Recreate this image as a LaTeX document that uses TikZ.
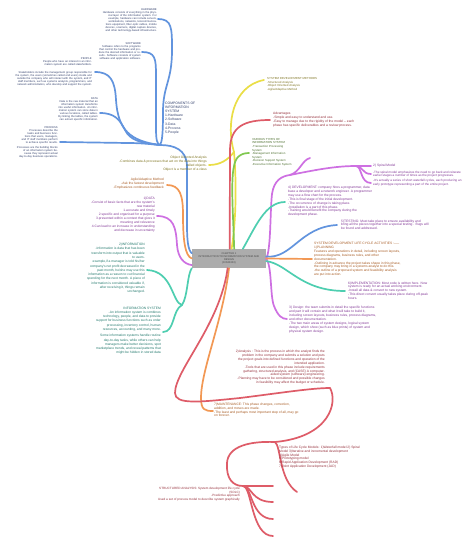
\documentclass[tikz,border=0pt]{standalone}
\usepackage{fontspec}
\setmainfont{Liberation Sans}
\usepackage{xcolor}

\definecolor{lnblue}{RGB}{98,148,222}
\definecolor{lnyellow}{RGB}{234,222,70}
\definecolor{lnred}{RGB}{222,92,104}
\definecolor{lngreen}{RGB}{128,200,80}
\definecolor{lnpurple}{RGB}{206,112,226}
\definecolor{lnteal}{RGB}{78,206,176}
\definecolor{lnorange}{RGB}{242,152,84}
\definecolor{txblue}{RGB}{52,66,110}
\definecolor{txyellow}{RGB}{128,118,36}
\definecolor{txred}{RGB}{150,48,60}
\definecolor{txgreen}{RGB}{78,112,48}
\definecolor{txpurple}{RGB}{132,58,152}
\definecolor{txteal}{RGB}{36,122,110}
\definecolor{txorange}{RGB}{168,92,36}

\begin{document}
\begin{tikzpicture}[x=1pt,y=-1pt,
    ln/.style={line width=1.7pt,line cap=round},
    lbl/.style={inner sep=0pt,font=\fontsize{3.3}{3.9}\selectfont},
    tinylbl/.style={inner sep=0pt,font=\fontsize{2.7}{3.0}\selectfont,align=right},
    chapter/.style={rectangle,fill={rgb,255:red,172;green,172;blue,172},text={rgb,255:red,70;green,70;blue,70},
        minimum width=74pt,minimum height=19pt,inner sep=0pt,align=center,font=\fontsize{2.6}{3.1}\selectfont}]
    \useasboundingbox[fill=white] (0,0) rectangle (474,547);

    % root
    \node (ctr) at (229,258.5) [chapter] {CHAPTER 1\\INTRODUCTION TO INFORMATION SYSTEM AND\\DESIGN\\(DIS20303)};

    % end points and hubs
    \coordinate (bhub) at (160,145);
    \coordinate (hw) at (158,19);
    \coordinate (sw) at (142,52);
    \coordinate (pp) at (95,72);
    \coordinate (dt) at (100,113);
    \coordinate (pr) at (60,142);
    \coordinate (yhub) at (234,152);
    \coordinate (ysdm) at (264,80);
    \coordinate (yooa) at (209,165);
    \coordinate (radv) at (270,120);
    \coordinate (gvt) at (249,153);
    \coordinate (oag) at (167,185);
    \coordinate (pdat) at (157,216);
    \coordinate (thub) at (182,305);
    \coordinate (tinf) at (147,270);
    \coordinate (tis) at (163,332);
    \coordinate (pjoin) at (290,175);
    \coordinate (sphub) at (356,166);
    \coordinate (sp1) at (371,166);
    \coordinate (sp2) at (371,174);
    \coordinate (sp3) at (371,183);
    \coordinate (pshort) at (310,158);
    \coordinate (pdes) at (287,319);
    \coordinate (tdev) at (285,202);
    \coordinate (timp) at (345,291);
    \coordinate (btst) at (337,225);
    \coordinate (osdl) at (312,259);
    \coordinate (omnt) at (213,411);
    \coordinate (rana) at (330,388);
    \coordinate (rhub) at (275,442);
    \coordinate (rtyp) at (297,492);
    \coordinate (sahub) at (243,486);
    \coordinate (sa1) at (273,486);
    \coordinate (sa2) at (273,502);
    \coordinate (sa3) at (273,519);
    \coordinate (sa4) at (273,536);

    % blue branch
    \draw[ln,lnblue] (ctr.172) .. controls (188,250) and (187,240) .. (187,225) -- (187,165) .. controls (186,150) and (175,145) .. (bhub);
    \draw[ln,lnblue] (hw) .. controls (172,19) and (172,28) .. (172,50) .. controls (172,82) and (163,85) .. (163,112) .. controls (163,135) and (162,142) .. (bhub);
    \draw[ln,lnblue] (sw) .. controls (155,52) and (156,58) .. (156,75) -- (156,128) .. controls (156,140) and (157,144) .. (bhub);
    \draw[ln,lnblue] (pp) .. controls (110,72) and (115,80) .. (116,100) .. controls (118,130) and (130,141) .. (bhub);
    \draw[ln,lnblue] (dt) .. controls (115,113) and (120,120) .. (125,130) .. controls (130,140) and (140,143) .. (bhub);
    \draw[ln,lnblue] (pr) -- (128,143) .. controls (140,143) and (150,144) .. (bhub);

    % yellow branch
    \draw[ln,lnyellow] (ctr.75) .. controls (237,215) and (236,175) .. (yhub);
    \draw[ln,lnyellow] (yhub) .. controls (226,125) and (232,86) .. (ysdm);
    \draw[ln,lnyellow] (yhub) .. controls (228,160) and (220,165) .. (yooa);

    % red, green
    \draw[ln,lnred] (ctr.86) -- (230,150) .. controls (230,126) and (245,120) .. (radv);
    \draw[ln,lngreen] (ctr.62) .. controls (233,205) and (229,166) .. (238,157) .. controls (241,154) and (245,153) .. (gvt);

    % orange, purple, teal on the left
    \draw[ln,lnorange] (ctr.180) .. controls (185,256) and (183,240) .. (183,215) .. controls (183,195) and (180,185) .. (oag);
    \draw[ln,lnpurple] (ctr.190) .. controls (184,264) and (178,258) .. (177,245) .. controls (176,228) and (174,216) .. (pdat);
    \draw[ln,lnteal] (ctr.south west) .. controls (187,275) and (188,296) .. (thub);
    \draw[ln,lnteal] (thub) .. controls (172,303) and (173,271) .. (tinf);
    \draw[ln,lnteal] (thub) .. controls (172,310) and (175,332) .. (tis);

    % right side
    \draw[ln,lnpurple] (ctr.east) .. controls (271,250) and (270,212) .. (272,194) .. controls (274,180) and (282,176) .. (pjoin) .. controls (315,170) and (335,166) .. (sphub);
    \draw[ln,lnpurple] (pjoin) .. controls (300,172) and (302,160) .. (pshort);
    \draw[ln,lnpurple] (sphub) -- (sp1);
    \draw[ln,lnpurple] (sphub) .. controls (363,166) and (362,174) .. (sp2);
    \draw[ln,lnpurple] (sphub) .. controls (362,166) and (360,183) .. (sp3);
    \draw[ln,lnpurple] (ctr.east) .. controls (272,266) and (270,296) .. (274,306) .. controls (278,316) and (282,319) .. (pdes);
    \draw[ln,lnteal] (ctr.35) .. controls (255,228) and (265,202) .. (tdev);
    \draw[ln,lnblue] (ctr.3) .. controls (292,259) and (300,227) .. (btst);
    \draw[ln,lnorange] (ctr.east) -- (osdl);
    \draw[ln,lnteal] (ctr.-4) .. controls (288,264) and (300,291) .. (timp);

    % bottom
    \draw[ln,lnorange] (ctr.south) .. controls (223,320) and (201,370) .. (201,398) .. controls (201,410) and (205,411) .. (omnt);
    \draw[ln,lnred] (ctr.262) .. controls (220,325) and (175,370) .. (175,393) .. controls (175,405) and (200,402) .. (240,398) .. controls (280,393) and (312,388) .. (rana);
    \draw[ln,lnred] (rana) .. controls (338,402) and (330,437) .. (rhub);
    \draw[ln,lnred] (rhub) .. controls (281,446) and (279,480) .. (rtyp);
    \draw[ln,lnred] (rhub) .. controls (250,441) and (228,446) .. (227,463) .. controls (226,479) and (233,486) .. (sahub);
    \draw[ln,lnred] (sahub) -- (sa1);
    \draw[ln,lnred] (sahub) .. controls (252,486) and (251,502) .. (sa2);
    \draw[ln,lnred] (sahub) .. controls (252,486) and (251,519) .. (sa3);
    \draw[ln,lnred] (sahub) .. controls (252,486) and (251,536) .. (sa4);

    % texts, blue
    \node (hwtxt) at (157,8) [tinylbl,anchor=north east,text width=58pt,text=txblue] {HARDWARE\\Hardware consists of everything in the physical layer of the information system. For example, hardware can include servers, workstations, networks, telecommunications equipment, fiber-optic cables, mobile devices, scanners, digital capture devices, and other technology-based infrastructure.};
    \node (swtxt) at (141,42) [tinylbl,anchor=north east,text width=44pt,text=txblue] {SOFTWARE\\Software refers to the programs that control the hardware and produce the desired information or results. Software consists of system software and application software.};
    \node (pptxt) at (92,57) [tinylbl,anchor=north east,text width=84pt,text=txblue] {PEOPLE\\People who have an interest in an information system are called stakeholders.};
    \node (stktxt) at (92,71) [tinylbl,anchor=north east,text width=86pt,text=txblue] {Stakeholders include the management group responsible for the system, the users (sometimes called end users) inside and outside the company who will interact with the system, and IT staff members, such as systems analysts, programmers, and network administrators, who develop and support the system.};
    \node (dttxt) at (98,97) [tinylbl,anchor=north east,text width=41pt,text=txblue] {DATA\\Data is the raw material that an information system transforms into useful information. An information system can store data in various locations, called tables. By linking the tables, the system can extract specific information.};
    \node (prtxt) at (58,126) [tinylbl,anchor=north east,text width=42pt,text=txblue] {PROCESS\\Processes describe the tasks and business functions that users, managers, and IT staff members perform to achieve specific results.};
    \node (pr2txt) at (58,146) [tinylbl,anchor=north east,text width=42pt,text=txblue] {Processes are the building blocks of an information system because they represent actual day-to-day business operations.};
    \node (comp) at (165,102) [inner sep=0pt,anchor=north west,align=left,text=txblue,font=\fontsize{3.4}{4.1}\selectfont] {COMPONENTS OF\\INFORMATION\\SYSTEM\\1-Hardware\\2-Software\\3-Data\\4-Process\\5-People};

    % texts, upper middle
    \node (sdmtxt) at (267,77.5) [inner sep=0pt,anchor=north west,align=left,text=txyellow,font=\fontsize{2.9}{3.5}\selectfont] {SYSTEM DEVELOPMENT METHODS\\-Structured Analysis\\-Object Oriented Analysis\\-Agile/Adaptive Method};
    \node (ooatxt) at (207,156) [lbl,anchor=north east,align=right,text=txyellow] {Object Oriented Analysis\\-Combines data \& processes that act on the data into things\\called objects.\\Object is a member of a class};
    \node (advtxt) at (273,112) [inner sep=0pt,anchor=north west,align=left,text=txred,font=\fontsize{3.3}{4.0}\selectfont] {Advantages\\-Simple and easy to understand and use.\\-Easy to manage due to the rigidity of the model -- each\\phase has specific deliverables and a review process.};
    \node (vttxt) at (252,138) [inner sep=0pt,anchor=north west,align=left,text=txgreen,font=\fontsize{2.9}{3.6}\selectfont] {VARIOUS TYPES OF\\INFORMATION SYSTEM\\-Transaction Processing\\System\\-Management Information\\System\\-Decision Support System\\-Executive Information System};

    % texts, left
    \node (agtxt) at (164,178) [lbl,anchor=north east,align=right,text=txorange] {Agile/Adaptive Method\\-Ask the fastest development\\-Emphasizes continuous feedback};
    \node (dattxt) at (155,197) [lbl,anchor=north east,align=right,text=txpurple,font=\fontsize{3.3}{4.0}\selectfont] {1)DATA\\-Consist of basic facts that are the system's\\raw material\\1.accurate and timely\\2.specific and organised for a purpose\\3.presented within a context that gives it\\meaning and relevance\\4.Can lead to an increase in understanding\\and decrease in uncertainty};
    \node (inftxt) at (145,243) [lbl,anchor=north east,align=right,text=txteal,font=\fontsize{3.3}{4.3}\selectfont] {2)INFORMATION\\-Information is data that has been\\transform into output that is valuable\\to users.\\example,if a manager is told his/her\\company's net profit decreased in the\\past month, he/she may use this\\information as a reason to cut financial\\spending for the next month. A piece of\\information is considered valuable if,\\after receiving it, things remain\\unchanged.};
    \node (istxt) at (161,307) [lbl,anchor=north east,align=right,text=txteal,font=\fontsize{3.3}{4.15}\selectfont] {INFORMATION SYSTEM\\-An information system is combines\\technology, people, and data to provide\\support for business functions such as order\\processing, inventory control, human\\resources, accounting, and many more.\\[2.5pt]Some information systems handle routine\\day-to-day tasks, while others can help\\managers make better decisions, spot\\marketplace trends, and reveal patterns that\\might be hidden in stored data};

    % texts, right
    \node (sp1txt) at (373,166) [lbl,anchor=west,text=txpurple] {2) Spiral Model};
    \node (sp2txt) at (373,171) [inner sep=0pt,anchor=north west,align=left,text=txpurple,font=\fontsize{3.1}{3.3}\selectfont] {-The spiral model emphasizes the need to go back and reiterate\\earlier stages a number of times as the project progresses.};
    \node (sp3txt) at (373,179.5) [inner sep=0pt,anchor=north west,align=left,text=txpurple,font=\fontsize{3.1}{3.3}\selectfont] {-It's actually a series of short waterfall cycles, each producing an\\early prototype representing a part of the entire project.};
    \node (devtxt) at (288,186) [lbl,anchor=north west,align=left,text=txpurple] {4) DEVELOPMENT: company hires a programmer, data\\base a developer and a network engineer. A programmer\\may use a flow chart for the process.\\-This is final stage of the initial development.\\-The occurrence of change is taking place.\\-Installation is a part of this phase.\\-Training would benefit the company during the\\development phase.};
    \node (tsttxt) at (341,219.5) [lbl,anchor=north west,align=left,text=txpurple] {5)TESTING: Must take place to ensure availability and\\bring all the pieces together into a special testing . Bugs will\\be found and addressed.};
    \node (sdltxt) at (314,242) [lbl,anchor=north west,align=left,text=txorange] {SYSTEM DEVELOPMENT LIFE CYCLE ACTIVITIES :-----\\1)PLANNING\\Features and operations in detail, including screen layouts,\\process diagrams, business rules, and other\\documentation.\\-Outlining in advance the project takes shape in this phase,\\the company may bring in a systems analyst to do this.\\-the outline of a proposed system and feasibility analysis\\are put into action.};
    \node (imptxt) at (348,281.5) [lbl,anchor=north west,align=left,text=txpurple,font=\fontsize{3.3}{3.9}\selectfont] {6)IMPLEMENTATION: Most code is written here. Now\\system is ready for an actual working environment.\\-Install all data \& convert to new system.\\-This direct convert usually takes place during off-peak\\hours.};
    \node (destxt) at (289,305.5) [lbl,anchor=north west,align=left,text=txpurple,font=\fontsize{3.3}{4.0}\selectfont] {3) Design: the team submits in detail the specific functions\\and part it will contain and what it will take to build it,\\including screen layouts, business rules, process diagrams,\\and other documentation.\\-The two main areas of system designs, logical system\\design, which show (such as blue prints) of system and\\physical system design.};

    % texts, bottom
    \node (anatxt) at (325,350) [lbl,anchor=north east,align=right,text=txred] {2)Analysis : This is the process in which the analyst finds the\\problem in the company and submits a solution and puts\\the project goals into defined functions and operation of the\\intended application.\\-Tools that are used in this phase include requirements\\gathering, structured analysis, and (CASE) A computer-\\aided system (software) engineering.\\-Planning may have to be considered and possible changes\\in feasibility may affect the budget or schedule.};
    \node (mnttxt) at (214,403) [lbl,anchor=north west,align=left,text=txorange,font=\fontsize{3.3}{3.8}\selectfont] {7)MAINTENANCE: This phase changes, correction,\\addition, and moves are made.\\-The least and perhaps most important step of all, may go\\on forever.};
    \node (typtxt) at (279,446) [lbl,anchor=north west,align=left,text=txred,font=\fontsize{3.3}{3.8}\selectfont] {Types of Life Cycle Models: 1)Waterfall model 2) Spiral\\Model 3)Iterative and incremental development\\4)Agile Model\\5)Prototyping model\\6)Rapid Application Development (RAD)\\7)Joint Application Development (JAD)};
    \node (satxt) at (240,487) [lbl,anchor=north east,align=right,text=txred,font=\fontsize{3.1}{3.6}\selectfont] {STRUCTURED ANALYSIS: System development life cycle\\(SDLC)\\-Predictive approach\\Used a set of process model to describe system graphically};
\end{tikzpicture}
\end{document}
